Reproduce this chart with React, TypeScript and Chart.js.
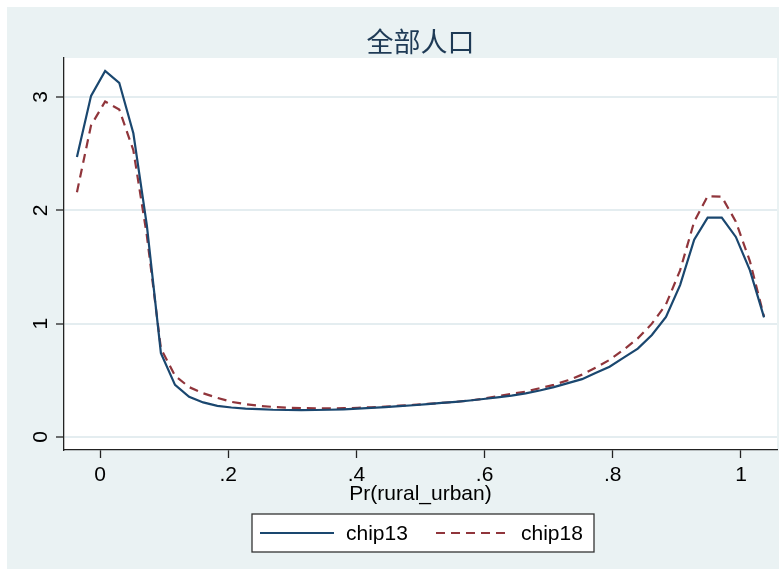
import React, { useEffect, useRef } from "react";
import { Chart, registerables } from "chart.js";

Chart.register(...registerables);

const titleText = "全部人口";
const xAxisTitle = "Pr(rural_urban)";
const seriesNames = ["chip13", "chip18"];

const xGrid = [
  -0.036, -0.014, 0.008, 0.03, 0.052, 0.073, 0.095, 0.117, 0.139, 0.161,
  0.183, 0.205, 0.227, 0.248, 0.27, 0.292, 0.314, 0.336, 0.358, 0.38,
  0.402, 0.423, 0.445, 0.467, 0.489, 0.511, 0.533, 0.555, 0.577, 0.598,
  0.62, 0.642, 0.664, 0.686, 0.708, 0.73, 0.752, 0.773, 0.795, 0.817,
  0.839, 0.861, 0.883, 0.905, 0.927, 0.948, 0.97, 0.992, 1.014, 1.036,
];

const chip13 = [
  2.47, 3.01, 3.23, 3.125, 2.68, 1.87, 0.74, 0.46, 0.355, 0.305,
  0.275, 0.26, 0.25, 0.245, 0.24, 0.238, 0.237, 0.238, 0.24, 0.244,
  0.25, 0.256, 0.263, 0.272, 0.28, 0.29, 0.3, 0.31, 0.322, 0.335,
  0.35, 0.365, 0.385, 0.41, 0.44, 0.475, 0.51, 0.565, 0.62, 0.7,
  0.78, 0.9, 1.06, 1.34, 1.74, 1.935, 1.935, 1.765, 1.47, 1.055,
];

const chip18 = [
  2.16, 2.75, 2.96, 2.89, 2.53, 1.78, 0.78, 0.54, 0.44, 0.385,
  0.345, 0.31, 0.29, 0.275, 0.265, 0.258, 0.255, 0.253, 0.253, 0.254,
  0.257, 0.262, 0.268, 0.276, 0.283, 0.292, 0.3, 0.31, 0.322, 0.338,
  0.36, 0.38, 0.4, 0.43, 0.46, 0.5, 0.55, 0.61, 0.68, 0.77,
  0.87, 1.0, 1.17, 1.47, 1.9, 2.125, 2.12, 1.9, 1.55, 1.06,
];

const xTickValues = [0, 0.2, 0.4, 0.6, 0.8, 1];
const xTickLabels = ["0", ".2", ".4", ".6", ".8", "1"];
const yTickValues = [0, 1, 2, 3];
const yTickLabels = ["0", "1", "2", "3"];

const W = 779;
const H = 571;
const BG = "#EAF2F3";
const C1 = "#1a476f";
const C2 = "#90353b";
const DASH = [9, 6];
const FONT = '"Liberation Sans", Arial, sans-serif';

const decorPlugin = {
  id: "decor",
  beforeDraw(chart: any) {
    const { ctx, chartArea } = chart;
    ctx.save();
    ctx.fillStyle = "#ffffff";
    ctx.fillRect(0, 0, W, H);
    ctx.fillStyle = BG;
    ctx.fillRect(7, 7, W - 7, 562);
    ctx.fillStyle = "#ffffff";
    ctx.fillRect(chartArea.left, chartArea.top, chartArea.right - chartArea.left, chartArea.bottom - chartArea.top);
    ctx.restore();
  },
  afterDraw(chart: any) {
    const { ctx, chartArea, scales } = chart;
    const xs = scales.x;
    const ys = scales.y;
    ctx.save();
    ctx.fillStyle = "#1e3a55";
    ctx.font = `27px "Noto Sans CJK SC", sans-serif`;
    ctx.textAlign = "center";
    ctx.textBaseline = "middle";
    const cx = (chartArea.left + chartArea.right) / 2;
    ctx.fillText(titleText, cx, 42);

    ctx.fillStyle = "#000000";
    ctx.font = `21px ${FONT}`;
    ctx.textBaseline = "middle";
    xTickValues.forEach((v, i) => {
      ctx.fillText(xTickLabels[i], xs.getPixelForValue(v), 475);
    });
    yTickValues.forEach((v, i) => {
      ctx.save();
      ctx.translate(41, ys.getPixelForValue(v));
      ctx.rotate(-Math.PI / 2);
      ctx.textAlign = "center";
      ctx.textBaseline = "middle";
      ctx.fillText(yTickLabels[i], 0, 0);
      ctx.restore();
    });
    ctx.fillText(xAxisTitle, cx, 494);

    const lx = 252, ly = 514, lw = 342, lh = 38;
    ctx.fillStyle = "#ffffff";
    ctx.fillRect(lx, ly, lw, lh);
    ctx.strokeStyle = "#333333";
    ctx.lineWidth = 1.3;
    ctx.strokeRect(lx, ly, lw, lh);
    const my = ly + lh / 2;
    ctx.lineWidth = 2;
    ctx.strokeStyle = C1;
    ctx.setLineDash([]);
    ctx.beginPath();
    ctx.moveTo(260, my);
    ctx.lineTo(334, my);
    ctx.stroke();
    ctx.strokeStyle = C2;
    ctx.setLineDash(DASH);
    ctx.beginPath();
    ctx.moveTo(436, my);
    ctx.lineTo(511, my);
    ctx.stroke();
    ctx.setLineDash([]);
    ctx.fillStyle = "#000000";
    ctx.textAlign = "left";
    ctx.textBaseline = "middle";
    ctx.fillText(seriesNames[0], 346, my + 1);
    ctx.fillText(seriesNames[1], 521, my + 1);
    ctx.restore();
  },
};

export default function App() {
  const ref = useRef<HTMLCanvasElement | null>(null);
  useEffect(() => {
    document.body.style.margin = "0";
    const canvas = ref.current!;
    const chart = new Chart(canvas, {
      type: "line",
      data: {
        datasets: [
          {
            label: seriesNames[0],
            data: xGrid.map((x, i) => ({ x, y: chip13[i] })),
            borderColor: C1,
            borderWidth: 2.2,
            pointRadius: 0,
            tension: 0,
            fill: false,
          },
          {
            label: seriesNames[1],
            data: xGrid.map((x, i) => ({ x, y: chip18[i] })),
            borderColor: C2,
            borderWidth: 2.2,
            borderDash: DASH,
            pointRadius: 0,
            tension: 0,
            fill: false,
          },
        ],
      },
      options: {
        responsive: false,
        animation: false,
        devicePixelRatio: 1,
        layout: { padding: { top: 58, right: 2, left: 0, bottom: 0 } },
        plugins: {
          legend: { display: false },
          title: { display: false },
          tooltip: { enabled: false },
        },
        scales: {
          x: {
            type: "linear",
            min: -0.0562,
            max: 1.0562,
            afterBuildTicks: (s: any) => {
              s.ticks = xTickValues.map((v) => ({ value: v }));
            },
            afterFit: (s: any) => {
              s.height = H - 450;
            },
            ticks: { display: false },
            grid: {
              drawOnChartArea: false,
              drawTicks: true,
              tickLength: 8,
              tickColor: "#222222",
              tickWidth: 1.3,
            },
            border: { display: true, color: "#222222", width: 1.3 },
          },
          y: {
            type: "linear",
            min: -0.115,
            max: 3.344,
            afterBuildTicks: (s: any) => {
              s.ticks = yTickValues.map((v) => ({ value: v }));
            },
            afterFit: (s: any) => {
              s.width = 64;
            },
            ticks: { display: false },
            grid: {
              drawOnChartArea: true,
              color: "#E4EDF0",
              lineWidth: 2,
              drawTicks: true,
              tickLength: 8,
              tickColor: "#222222",
              tickWidth: 1.3,
            },
            border: { display: true, color: "#222222", width: 1.3 },
          },
        },
      },
      plugins: [decorPlugin],
    });
    return () => chart.destroy();
  }, []);
  return <canvas ref={ref} width={W} height={H} style={{ display: "block", width: W, height: H }} />;
}
